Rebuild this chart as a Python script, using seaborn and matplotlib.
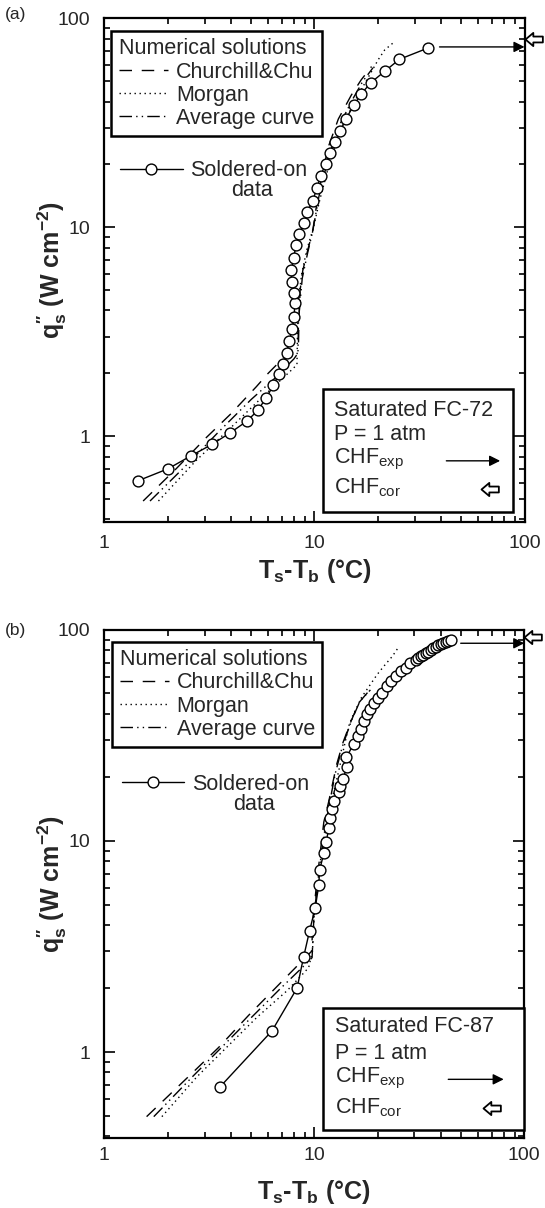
import matplotlib
matplotlib.use("Agg")
import matplotlib.pyplot as plt
import seaborn as sns
from matplotlib.lines import Line2D
from matplotlib.patches import Rectangle
from matplotlib.path import Path
from matplotlib.ticker import NullFormatter

# ---------------- data ----------------
# (a) saturated FC-72, soldered-on data
dt_a = [1.45, 2.01, 2.59, 3.25, 3.98, 4.76, 5.38, 5.87, 6.38, 6.76, 7.10, 7.37,
        7.60, 7.81, 8.02, 8.05, 7.96, 7.81, 7.75, 7.96, 8.17, 8.49, 8.92, 9.27,
        9.8, 10.3, 10.7, 11.3, 11.8, 12.5, 13.3, 14.1, 15.4, 16.7, 18.6, 21.6,
        25.4, 34.7]
q_a = [0.613, 0.699, 0.807, 0.914, 1.04, 1.18, 1.33, 1.52, 1.75, 1.98, 2.23, 2.51,
       2.85, 3.25, 3.71, 4.32, 4.83, 5.45, 6.22, 7.10, 8.25, 9.34, 10.5, 11.9,
       13.4, 15.4, 17.7, 20.0, 22.6, 25.5, 28.9, 33.0, 38.3, 43.5, 49.3, 55.8,
       63.7, 72.1]

# (a) numerical solutions
cc_a_x = [1.53, 2.2, 3.07, 4.0, 5.3, 6.02, 7.2, 8.4, 8.45, 8.55, 8.8, 9.3, 9.8,
          10.4, 11.6, 13.0, 15.0, 16.7, 18.7]
cc_a_q = [0.49, 0.70, 0.99, 1.28, 1.73, 2.0, 2.4, 2.8, 3.7, 5.0, 6.2, 7.8, 9.5,
          14.2, 24.0, 33.0, 43.0, 50.8, 58.8]
mo_a_x = [1.81, 2.75, 4.0, 5.5, 7.64, 8.26, 8.3, 8.4, 8.7, 9.2, 9.9, 10.6, 11.9,
          13.5, 15.5, 18.0, 20.1, 21.6, 24.1]
mo_a_q = [0.49, 0.77, 1.1, 1.5, 2.04, 2.2, 3.0, 4.5, 6.0, 7.8, 10.0, 13.5, 21.0,
          30.0, 40.0, 52.0, 63.3, 70.6, 77.4]
av_a_x = [1.65, 2.5, 3.5, 5.0, 6.5, 8.0, 8.35, 8.4, 8.75, 9.3, 9.8, 10.5, 11.7,
          13.2, 15.2, 17.0, 19.0]
av_a_q = [0.49, 0.74, 1.05, 1.5, 1.9, 2.35, 2.5, 3.6, 5.7, 7.6, 9.5, 14.0, 22.0,
          31.0, 41.0, 50.0, 58.0]

# (b) saturated FC-87, soldered-on data
dt_b = [3.54, 6.29, 8.28, 8.9, 9.5, 10.1, 10.5, 10.6, 11.1, 11.4, 11.7, 11.9,
        12.2, 12.4, 13.1, 13.3, 13.7, 14.3, 14.2, 15.4, 16.1, 16.6, 17.2, 17.8,
        18.5, 19.2, 20.1, 21.1, 22.1, 23.1, 24.4, 25.8, 27.2, 28.7, 30.4, 31.3,
        32.1, 33.0, 33.9, 34.9, 35.8, 36.9, 37.8, 38.8, 40.0, 41.0, 42.2, 43.5,
        44.6]
q_b = [0.68, 1.26, 2.01, 2.83, 3.76, 4.81, 6.16, 7.29, 8.74, 9.84, 11.5, 12.8,
       14.2, 15.4, 17.0, 18.3, 19.7, 22.4, 24.9, 28.8, 31.5, 34.1, 37.1, 39.8,
       42.3, 44.9, 47.7, 50.4, 54.1, 57.1, 60.3, 63.7, 66.0, 69.7, 72.3, 73.8,
       74.9, 76.0, 77.7, 79.0, 80.5, 81.8, 83.4, 84.6, 85.6, 86.8, 88.1, 88.8,
       89.7]

# (b) numerical solutions
cc_b_x = [1.59, 2.56, 3.5, 4.86, 6.5, 8.58, 9.7, 9.9, 10.3, 11.1, 11.7, 12.4,
          12.8, 13.7, 14.8, 16.3, 18.5]
cc_b_q = [0.494, 0.777, 1.05, 1.49, 2.0, 2.65, 3.0, 4.5, 6.5, 12.3, 15.3, 20.0,
          23.2, 29.3, 36.0, 45.2, 52.4]
mo_b_x = [1.88, 2.76, 4.0, 5.33, 7.41, 9.4, 9.8, 10.0, 10.4, 11.2, 12.0, 13.0,
          14.6, 15.1, 16.8, 19.9, 21.4, 23.5, 25.3]
mo_b_q = [0.494, 0.763, 1.1, 1.46, 1.95, 2.51, 3.0, 4.5, 6.5, 10.5, 15.0, 21.0,
          35.1, 38.4, 48.0, 61.4, 67.2, 74.9, 83.4]
av_b_x = [1.72, 2.65, 4.4, 6.9, 9.0, 9.76, 9.94, 10.3, 11.0, 11.8, 12.6, 13.6,
          15.0, 16.5, 18.5]
av_b_q = [0.494, 0.77, 1.28, 2.0, 2.58, 2.8, 4.2, 6.0, 10.0, 15.0, 21.0, 28.0,
          37.0, 46.0, 52.0]

# critical heat flux
chf_exp = {"a": 73.0, "b": 86.5}
chf_start = {"a": 39.4, "b": 49.8}
chf_cor = {"a": 79.3, "b": 92.4}

fluids = {"a": "Saturated FC-72", "b": "Saturated FC-87"}
x_ticks = [1, 10, 100]
x_tick_labels = ["1", "10", "100"]
y_ticks = [1, 10, 100]
y_tick_labels = ["1", "10", "100"]

# ---------------- style ----------------
sns.set_style("ticks")
plt.rcParams["font.family"] = ["Liberation Sans", "DejaVu Sans"]
plt.rcParams["mathtext.fontset"] = "custom"
plt.rcParams["mathtext.rm"] = "Liberation Sans"
plt.rcParams["mathtext.it"] = "Liberation Sans:italic"
plt.rcParams["mathtext.bf"] = "Liberation Sans:bold"

# open block arrow (tip at the origin, pointing left)
arrow_marker = Path([(0, 0), (0.45, 0.38), (0.45, 0.17), (1.0, 0.17),
                     (1.0, -0.17), (0.45, -0.17), (0.45, -0.38), (0, 0)],
                    [Path.MOVETO] + [Path.LINETO] * 6 + [Path.CLOSEPOLY])

FS = 15.5
MS = 7.8
DASH_CC = (9, 7)
DASH_MO = (1, 2.6)
DASH_AV = (9, 3, 1, 3, 1, 3)


def draw_panel(ax, key, dt, q, curves, box_rows, leg_pos, sold_pos, data_pos,
               xpad, xlab_y):
    for (cx, cq), dash in zip(curves, [DASH_CC, DASH_MO, DASH_AV]):
        sns.lineplot(x=cx, y=cq, ax=ax, sort=False, estimator=None,
                     color="k", lw=1.0)
        ax.lines[-1].set_dashes(dash)

    sns.lineplot(x=dt, y=q, ax=ax, sort=False, estimator=None, color="k",
                 lw=1.0, marker="o", markersize=MS, markerfacecolor="white",
                 markeredgecolor="k", markeredgewidth=1.0, zorder=4)

    # CHF markers
    ax.annotate("", xy=(100, chf_exp[key]), xytext=(chf_start[key], chf_exp[key]),
                arrowprops=dict(arrowstyle="-|>", color="k", lw=1.0,
                                mutation_scale=16, shrinkA=0, shrinkB=0),
                annotation_clip=False, zorder=5)
    ax.plot([100], [chf_cor[key]], ls="none", marker=arrow_marker, ms=25,
            mfc="white", mec="k", mew=1.3, clip_on=False, zorder=6)

    ax.set_xscale("log")
    ax.set_yscale("log")
    ax.set_xlim(1, 100)
    ax.set_ylim(0.39, 100)
    ax.set_xticks(x_ticks)
    ax.set_xticklabels(x_tick_labels)
    ax.set_yticks(y_ticks)
    ax.set_yticklabels(y_tick_labels)
    ax.xaxis.set_minor_formatter(NullFormatter())
    ax.yaxis.set_minor_formatter(NullFormatter())
    ax.tick_params(which="both", direction="in", top=True, right=True,
                   labelsize=14, width=1.2, color="k")
    ax.tick_params(which="major", length=8)
    ax.tick_params(which="minor", length=4)
    ax.tick_params(axis="x", pad=xpad)
    ax.tick_params(axis="y", pad=10)
    for sp in ax.spines.values():
        sp.set_linewidth(1.6)
        sp.set_color("k")

    ax.set_xlabel(r"T$_\mathbf{s}$-T$_\mathbf{b}$ (°C)", fontsize=18,
                  fontweight="bold")
    ax.xaxis.set_label_coords(0.5, xlab_y)
    ax.set_ylabel(r"q$^{\mathbf{\prime\prime}}_{\mathbf{s}}$ (W cm$^{\mathbf{-2}}$)",
                  fontsize=18, fontweight="bold")
    ax.yaxis.set_label_coords(-0.085, 0.5)

    # legend: numerical solutions
    handles = [Line2D([], [], color="k", lw=1.0, dashes=DASH_CC),
               Line2D([], [], color="k", lw=1.0, dashes=DASH_MO),
               Line2D([], [], color="k", lw=1.0, dashes=DASH_AV)]
    leg = ax.legend(handles, ["Churchill&Chu", "Morgan", "Average curve"],
                    title="Numerical solutions", loc="upper left",
                    bbox_to_anchor=leg_pos, borderaxespad=0, fontsize=FS,
                    title_fontsize=FS, frameon=True, fancybox=False,
                    edgecolor="k", framealpha=1, handlelength=2.3,
                    handletextpad=0.35, labelspacing=0.1, borderpad=0.35,
                    alignment="left")
    leg.get_frame().set_linewidth(1.8)
    leg.set_zorder(7)
    ax.add_artist(leg)

    sold = Line2D([], [], color="k", lw=1.0, marker="o", markersize=MS,
                  markerfacecolor="white", markeredgecolor="k")
    leg2 = ax.legend([sold], ["Soldered-on"], loc="center left",
                     bbox_to_anchor=sold_pos, borderaxespad=0, borderpad=0,
                     fontsize=FS, frameon=False, handlelength=2.9,
                     handletextpad=0.37)
    leg2.set_zorder(7)
    ax.text(data_pos[0], data_pos[1], "data", transform=ax.transAxes,
            ha="center", va="center", fontsize=FS, zorder=7)

    # info box
    x0, y0, x1, y1 = box_rows["box"]
    ax.add_patch(Rectangle((x0, y0), x1 - x0, y1 - y0, transform=ax.transAxes,
                           facecolor="white", edgecolor="k", lw=1.8,
                           zorder=6, clip_on=False))
    tx = box_rows["tx"]
    ys = box_rows["ys"]
    ax.text(tx, ys[0], fluids[key], transform=ax.transAxes, ha="left",
            va="center", fontsize=FS, zorder=7)
    ax.text(tx, ys[1], "P = 1 atm", transform=ax.transAxes, ha="left",
            va="center", fontsize=FS, zorder=7)
    ax.text(tx, ys[2], r"CHF$_{\mathrm{exp}}$", transform=ax.transAxes,
            ha="left", va="center", fontsize=FS, zorder=7)
    ax.text(tx, ys[3], r"CHF$_{\mathrm{cor}}$", transform=ax.transAxes,
            ha="left", va="center", fontsize=FS, zorder=7)
    ax1, ax2, ay = box_rows["arrow"]
    ax.annotate("", xy=(ax2, ay), xytext=(ax1, ay), xycoords="axes fraction",
                arrowprops=dict(arrowstyle="-|>", color="k", lw=1.0,
                                mutation_scale=16, shrinkA=0, shrinkB=0),
                zorder=7)
    ox, oy = box_rows["open"]
    ax.plot([ox], [oy], ls="none", marker=arrow_marker, ms=25, mfc="white",
            mec="k", mew=1.3, transform=ax.transAxes, zorder=7, clip_on=False)


fig = plt.figure(figsize=(5.45, 12.08), dpi=100)
ax_a = fig.add_axes([0.1914, 0.5681, 0.771, 0.4167])
ax_b = fig.add_axes([0.1914, 0.0577, 0.7706, 0.4208])

draw_panel(ax_a, "a", dt_a, q_a,
           [(cc_a_x, cc_a_q), (mo_a_x, mo_a_q), (av_a_x, av_a_q)],
           {"box": (0.5195, 0.0199, 0.972, 0.263), "tx": 0.5476,
            "ys": (0.2204, 0.1728, 0.1231, 0.0675),
            "arrow": (0.814, 0.942, 0.121), "open": (0.8975, 0.0645)},
           leg_pos=(0.0164, 0.975), sold_pos=(0.0376, 0.697),
           data_pos=(0.351, 0.659), xpad=9.5, xlab_y=-0.070)

draw_panel(ax_b, "b", dt_b, q_b,
           [(cc_b_x, cc_b_q), (mo_b_x, mo_b_q), (av_b_x, av_b_q)],
           {"box": (0.521, 0.0163, 1.0, 0.257), "tx": 0.55,
            "ys": (0.2196, 0.1672, 0.118, 0.0602),
            "arrow": (0.819, 0.951, 0.116), "open": (0.901, 0.059)},
           leg_pos=(0.0183, 0.977), sold_pos=(0.0414, 0.6964),
           data_pos=(0.356, 0.6557), xpad=6, xlab_y=-0.078)

fig.text(5 / 545, 1 - 15 / 1208, "(a)", ha="left", va="center", fontsize=12.5)
fig.text(5 / 545, 1 - 630 / 1208, "(b)", ha="left", va="center", fontsize=12.5)

fig.savefig("out.png", dpi=100)
